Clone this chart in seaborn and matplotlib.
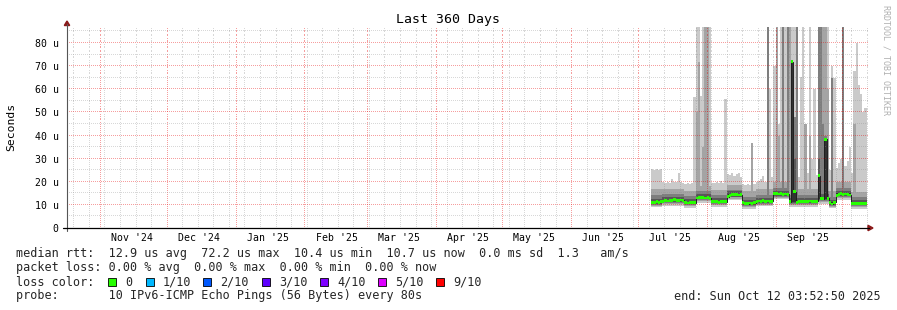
import numpy as np
import pandas as pd
import matplotlib
matplotlib.use("Agg")
import matplotlib.pyplot as plt
import matplotlib.dates as mdates
from matplotlib.patches import Polygon, Rectangle
from matplotlib.lines import Line2D
from matplotlib.ticker import FixedLocator, NullFormatter
import seaborn as sns

# ------------------------------------------------------------------ data
title = "Last 360 Days"
y_label = "Seconds"
watermark = "RRDTOOL / TOBI OETIKER"
range_start = "2024-10-17 03:52:50"
range_end = "2025-10-12 03:52:50"
data_first_day = "2025-07-07"          # day index 6 (Jul 1 = day 0)
first_day_index = 6

month_labels = ["Nov '24", "Dec '24", "Jan '25", "Feb '25", "Mar '25", "Apr '25",
                "May '25", "Jun '25", "Jul '25", "Aug '25", "Sep '25"]
month_label_starts = ["2024-11-01", "2024-12-01", "2025-01-01", "2025-02-01", "2025-03-01",
                      "2025-04-01", "2025-05-01", "2025-06-01", "2025-07-01", "2025-08-01",
                      "2025-09-01"]
y_tick_values = [0, 10, 20, 30, 40, 50, 60, 70, 80]
y_tick_labels = ["0", "10 u", "20 u", "30 u", "40 u", "50 u", "60 u", "70 u", "80 u"]

# daily median rtt (microseconds), Jul 7 .. Oct 11 2025
median_rtt = [
    11.0, 11.2, 11.3, 11.2, 11.5,
    11.6, 11.8, 11.7, 12.0, 11.9, 12.2, 11.8, 12.0, 12.1, 11.9,
    11.0, 10.8, 11.1, 10.9, 11.0,
    13.0, 13.2, 13.1, 13.2, 13.0, 13.1, 12.9,
    11.6, 11.3, 11.4, 11.2, 11.3, 11.5, 11.4,
    13.6, 14.2, 14.4, 14.5, 14.6, 14.3, 14.4,
    10.9, 10.6, 10.5, 10.8, 10.7, 10.9,
    11.5, 11.7, 11.6, 11.8, 11.6, 11.7, 11.5, 11.6,
    14.8, 14.9, 14.7, 14.8, 14.6, 14.7, 14.5,
    11.4, 72.0, 15.7, 11.2, 11.5, 11.6, 11.4, 11.3, 11.5, 11.7, 11.5, 11.4, 11.6,
    22.7, 12.8, 12.6, 38.4, 12.9,
    11.0, 10.4, 11.2,
    14.2, 14.6, 14.8, 14.6, 14.7, 14.5, 14.3,
    10.7, 10.5, 10.6, 10.5, 10.6, 10.6, 10.7,
]

# daily highest ping (outer smoke top), values above the chart top are clipped
ping10_top = [
    25.5, 25.2, 25.4, 25.0, 25.3,
    19.8, 19.5, 20.1, 19.6, 21.1, 19.8, 20.0, 23.6, 19.7, 19.5,
    19.2, 19.6, 19.0, 19.4, 56.8,
    90, 90, 57.0, 90, 90, 90, 90,
    19.5, 19.3, 19.8, 19.6, 20.2, 19.5, 56.0,
    23.5, 22.8, 23.8, 22.5, 23.2, 24.0, 22.0,
    19.0, 18.6, 19.2, 18.8, 36.7, 19.0,
    19.8, 20.5, 21.0, 22.5, 20.0, 90, 60.0, 22.0,
    70.0, 90, 45.0, 90, 90, 90, 90,
    90, 90, 90, 90, 22.0, 65.5, 90, 30.0, 24.0, 90, 30.0, 60.0, 23.0,
    90, 90, 90, 90, 90,
    25.0, 70.0, 65.0,
    26.0, 28.0, 30.0, 90, 27.0, 29.0, 35.0,
    24.0, 68.0, 80.0, 62.0, 58.0, 50.0, 52.0,
]

# quiet-period ping levels per plateau: start day, end day, ping1 .. ping9
seg_start = [6, 11, 21, 26, 33, 40, 47, 53, 61, 68, 81, 86, 89, 96]
seg_end   = [11, 21, 26, 33, 40, 47, 53, 61, 68, 81, 86, 89, 96, 103]
seg_p1 = [9.0, 9.6, 8.8, 10.8, 9.1, 11.9, 8.4, 9.3, 12.4, 9.1, 10.4, 8.5, 12.2, 8.3]
seg_p2 = [9.6, 10.3, 9.4, 11.5, 9.8, 12.6, 9.1, 10.0, 13.1, 9.8, 11.1, 9.2, 12.9, 9.0]
seg_p3 = [10.1, 10.8, 9.9, 12.0, 10.3, 13.2, 9.6, 10.5, 13.6, 10.3, 11.6, 9.7, 13.5, 9.5]
seg_p4 = [10.5, 11.2, 10.3, 12.4, 10.7, 13.6, 10.0, 10.9, 14.0, 10.7, 12.0, 10.1, 13.9, 9.9]
seg_p5 = [10.9, 11.6, 10.7, 12.8, 11.1, 14.0, 10.4, 11.3, 14.4, 11.1, 12.4, 10.5, 14.3, 10.3]
seg_p6 = [11.6, 12.3, 11.4, 13.5, 11.8, 14.7, 11.1, 12.0, 15.1, 11.8, 13.2, 11.2, 15.0, 11.0]
seg_p7 = [12.7, 13.4, 12.5, 14.6, 12.9, 15.8, 12.2, 13.1, 16.2, 12.9, 14.5, 12.3, 16.1, 12.1]
seg_p8 = [14.2, 14.6, 13.8, 15.8, 14.2, 16.4, 13.4, 14.4, 17.2, 14.2, 15.8, 13.6, 17.2, 13.2]
seg_p9 = [16.8, 17.0, 16.2, 18.2, 16.6, 18.6, 15.8, 16.8, 19.8, 16.8, 19.0, 16.0, 20.0, 15.6]

# days where inner pings spiked (day index: value)
ping9_spikes = {26: 50, 27: 72, 29: 35, 30: 90, 31: 90, 51: 36.7, 58: 90, 62: 90, 63: 40,
                65: 90, 67: 90, 68: 90, 69: 72, 71: 90, 75: 45, 77: 40, 81: 90, 82: 90,
                83: 90, 84: 90, 85: 60, 92: 90, 97: 45}
ping8_spikes = {58: 90, 65: 90, 67: 90, 69: 72, 70: 48, 71: 90, 81: 90, 82: 90, 83: 45,
                84: 40, 87: 65, 92: 90}
ping7_spikes = {69: 72, 70: 30, 81: 30, 84: 38.4}

legend_rtt = "median rtt:  12.9 us avg  72.2 us max  10.4 us min  10.7 us now  0.0 ms sd  1.3   am/s"
legend_loss = "packet loss: 0.00 % avg  0.00 % max  0.00 % min  0.00 % now"
loss_title = "loss color:"
loss_labels = ["0", "1/10", "2/10", "3/10", "4/10", "5/10", "9/10"]
loss_colors = ["#26ff00", "#00b8ff", "#0059ff", "#5e00ff", "#7e00ff", "#dd00ff", "#ff0000"]
probe_text = "probe:       10 IPv6-ICMP Echo Pings (56 Bytes) every 80s"
end_text = "end: Sun Oct 12 03:52:50 2025"

smoke_colors = ["#cacaca", "#a4a4a4", "#7e7e7e", "#585858", "#323232"]

# ------------------------------------------------------------------ build tables
n = len(median_rtt)
day_idx = np.arange(first_day_index, first_day_index + n)

def from_segments(vals):
    out = np.zeros(n)
    for s, e, v in zip(seg_start, seg_end, vals):
        out[(day_idx >= s) & (day_idx < e)] = v
    return out

def with_spikes(arr, spikes):
    arr = arr.copy()
    for d, v in spikes.items():
        arr[d - first_day_index] = v
    return arr

med = np.array(median_rtt, dtype=float)
p1, p2, p3, p4, p5, p6 = [from_segments(v) for v in (seg_p1, seg_p2, seg_p3, seg_p4, seg_p5, seg_p6)]
p7 = with_spikes(from_segments(seg_p7), ping7_spikes)
p8 = with_spikes(from_segments(seg_p8), ping8_spikes)
p9 = with_spikes(from_segments(seg_p9), ping9_spikes)
p10 = np.array(ping10_top, dtype=float)
p6 = np.maximum(p6, med)

edges = list(pd.date_range(data_first_day, periods=n, freq="D")) + [pd.Timestamp(range_end)]
x_edges = mdates.date2num(pd.DatetimeIndex(edges).to_pydatetime())

def ext(a):
    return np.append(a, a[-1])

# ------------------------------------------------------------------ figure
sns.set_theme(style="white")
plt.rcParams["font.family"] = ["DejaVu Sans Mono"]

W, H = 897, 310
fig = plt.figure(figsize=(W / 100, H / 100), dpi=100, facecolor="white")
fx = lambda x: x / W
fy = lambda y: 1 - y / H

PX_L, PX_R, PX_T, PX_B = 67, 867, 27, 228
PX_PER_U = 2.3125
ax = fig.add_axes([fx(PX_L), fy(PX_B), (PX_R - PX_L) / W, (PX_B - PX_T) / H])
ax.set_facecolor("white")
for s in ax.spines.values():
    s.set_visible(False)

x0 = mdates.date2num(pd.Timestamp(range_start).to_pydatetime())
x1 = mdates.date2num(pd.Timestamp(range_end).to_pydatetime())
ax.set_xlim(x0, x1)
ymax = (PX_B - PX_T) / PX_PER_U
ax.set_ylim(0, ymax)

# smoke
bands = [(p1, p10), (p2, p9), (p3, p8), (p4, p7), (p5, p6)]
for (lo, hi), c in zip(bands, smoke_colors):
    ax.fill_between(x_edges, ext(lo), ext(hi), step="post", color=c, lw=0, zorder=1)

# median: thin dark line plus a loss-coloured band around it
sns.lineplot(x=x_edges, y=ext(med), drawstyle="steps-post", color="#202020",
             linewidth=0.7, ax=ax, legend=False, zorder=4)
half = 1.4 / PX_PER_U
ax.fill_between(x_edges, ext(med) - half, ext(med) + half, step="post",
                color=loss_colors[0], lw=0, zorder=5)

# dotted grid (1 px dot, 1 px gap), drawn over the smoke as rrdtool does
grid_c = (0.56, 0.56, 0.56, 0.34)
mgrid_c = (0.91, 0.0, 0.0, 0.38)
x_per_px = (x1 - x0) / (PX_R - PX_L)
y_per_px = ymax / (PX_B - PX_T)
xs_dots = x0 + (np.arange(1, PX_R - PX_L, 2) + 0.5) * x_per_px
ys_dots = (np.arange(1, PX_B - PX_T, 2) + 0.5) * y_per_px

def hdots(yv, c):
    ax.plot(xs_dots, np.full_like(xs_dots, yv), ls="none", marker=",", color=c, zorder=3)

def vdots(xv, c):
    ax.plot(np.full_like(ys_dots, xv), ys_dots, ls="none", marker=",", color=c, zorder=3)

months = pd.date_range("2024-11-01", "2025-10-01", freq="MS")
month_nums = mdates.date2num(months.to_pydatetime())
weeks = pd.date_range("2024-10-20", range_end, freq="W-SUN")
week_nums = [w for w in mdates.date2num(weeks.to_pydatetime()) if min(abs(month_nums - w)) > 0.6]
for w in week_nums:
    vdots(w, grid_c)
for m in month_nums:
    vdots(m, mgrid_c)
for yv in np.arange(5, ymax, 5):
    is_major = abs(yv % 10) < 1e-6
    hdots(yv, mgrid_c if is_major else grid_c)

# ticks
ax.xaxis.set_major_locator(FixedLocator(month_nums))
ax.xaxis.set_minor_locator(FixedLocator(week_nums))
ax.xaxis.set_major_formatter(NullFormatter())
ax.tick_params(axis="x", which="major", length=2.2, width=0.7, color=(0.91, 0, 0, 0.5), direction="out")
ax.tick_params(axis="x", which="minor", length=2.0, width=0.7, color=(0.5, 0.5, 0.5, 0.5), direction="out")
ax.set_yticks(y_tick_values)
ax.set_yticklabels(y_tick_labels)
ax.yaxis.set_minor_locator(FixedLocator(list(np.arange(5, 90, 10))))
ax.tick_params(axis="y", which="major", length=2.5, width=0.7, color="#666666", direction="out",
               pad=3.4, labelsize=7.1, labelcolor="black")
ax.tick_params(axis="y", which="minor", length=1.5, width=0.6, color="#999999", direction="out")
ax.set_xlabel("")
ax.set_ylabel("")

# month labels at mid-month
for lab, start in zip(month_labels, month_label_starts):
    xm = mdates.date2num((pd.Timestamp(start) + pd.Timedelta(days=14.5)).to_pydatetime())
    ax.text(xm, -(238 - PX_B) / PX_PER_U, lab, ha="center", va="center", fontsize=7.1,
            color="black", clip_on=False)

# axes lines and arrows
fig.add_artist(Line2D([fx(PX_L), fx(PX_L)], [fy(231), fy(24)], color="#555555", lw=0.8))
fig.add_artist(Line2D([fx(63), fx(869)], [fy(PX_B), fy(PX_B)], color="black", lw=0.9))
arrow_c = "#8b1a1a"
fig.add_artist(Polygon([(fx(64.3), fy(25.5)), (fx(69.7), fy(25.5)), (fx(67), fy(21))],
                       closed=True, color=arrow_c, transform=fig.transFigure))
fig.add_artist(Polygon([(fx(868), fy(225.3)), (fx(868), fy(230.7)), (fx(873), fy(228))],
                       closed=True, color=arrow_c, transform=fig.transFigure))

# titles
fig.text(fx(448), fy(19), title, ha="center", va="center", fontsize=9.5, color="black")
fig.text(fx(11), fy(127), y_label, ha="center", va="center", rotation=90, fontsize=8.2,
         color="black")
fig.text(fx(886), fy(60), watermark, ha="center", va="center", rotation=270, fontsize=6.0,
         color="#b0b0b0")

# legend
LF = 8.5
fig.text(fx(16), fy(254), legend_rtt, ha="left", va="center", fontsize=LF)
fig.text(fx(16), fy(268), legend_loss, ha="left", va="center", fontsize=LF)
fig.text(fx(16), fy(282), loss_title, ha="left", va="center", fontsize=LF)
box_x = [108, 146, 203, 262, 320, 378, 436]
for bx, lab, col in zip(box_x, loss_labels, loss_colors):
    fig.add_artist(Rectangle((fx(bx), fy(286)), 8 / W, 8 / H, facecolor=col,
                             edgecolor="black", lw=0.6, transform=fig.transFigure))
    fig.text(fx(bx + 17), fy(282), lab, ha="left", va="center", fontsize=LF)
fig.text(fx(16), fy(296), probe_text, ha="left", va="center", fontsize=LF)
fig.text(fx(881), fy(296), end_text, ha="right", va="center", fontsize=LF)

fig.savefig("out.png", dpi=100, facecolor="white")
